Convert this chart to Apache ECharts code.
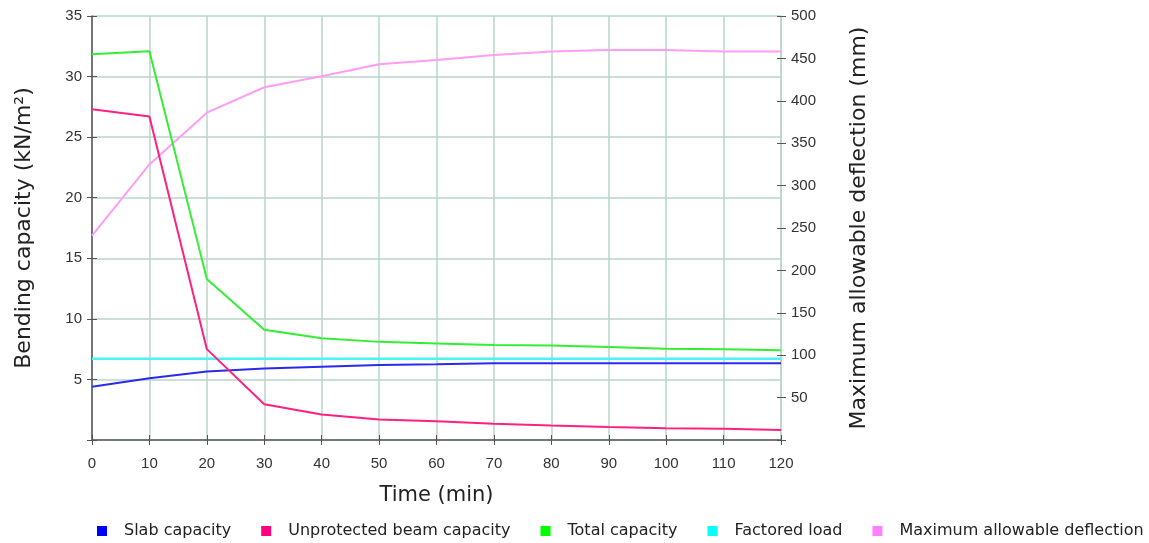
<!DOCTYPE html>
<html>
<head>
<meta charset="utf-8">
<script src="https://cdn.jsdelivr.net/npm/echarts@6/dist/echarts.min.js"></script>
<style>html,body{margin:0;padding:0;background:#fff}#c{width:1149px;height:543px}</style>
</head>
<body>
<div id="c"></div>
<script>
var times = [0, 10, 20, 30, 40, 50, 60, 70, 80, 90, 100, 110, 120];
var slabCapacity = [4.4, 5.1, 5.65, 5.9, 6.05, 6.2, 6.25, 6.33, 6.33, 6.33, 6.33, 6.33, 6.33];
var unprotectedBeam = [27.3, 26.7, 7.5, 2.95, 2.1, 1.7, 1.55, 1.35, 1.2, 1.07, 0.96, 0.93, 0.82];
var totalCapacity = [31.85, 32.1, 13.3, 9.1, 8.4, 8.1, 7.97, 7.84, 7.8, 7.67, 7.53, 7.5, 7.4];
var factoredLoad = [6.7, 6.7, 6.7, 6.7, 6.7, 6.7, 6.7, 6.7, 6.7, 6.7, 6.7, 6.7, 6.7];
var maxDeflection = [241, 325, 386, 416, 429, 443, 448, 454, 458, 460, 460, 458, 458];

function pairs(vals) { return times.map(function (t, i) { return [t, vals[i]]; }); }

var FONT = 'Liberation Sans';
var TFONT = 'DejaVu Sans';
var GRID = '#b9d6c8';
var AX = '#555555';
var G = {left: 92, right: 368, top: 16, bottom: 103, containLabel: false};

var chart = echarts.init(document.getElementById('c'), null, {renderer: 'canvas'});
function mk(name, vals, lineColor, iconColor, yIdx, w) {
  return {
    name: name, type: 'line', xAxisIndex: 0, yAxisIndex: yIdx || 0, data: pairs(vals),
    showSymbol: false, symbol: 'none', animation: false,
    lineStyle: {color: lineColor, width: w || 2},
    itemStyle: {color: iconColor}
  };
}
chart.setOption({
  animation: false,
  textStyle: {fontFamily: FONT},
  grid: [G, Object.assign({}, G)],
  legend: {
    left: 97, top: 523, width: 2000, padding: 0, itemWidth: 10, itemHeight: 10, itemGap: 30, icon: 'rect',
    textStyle: {fontFamily: TFONT, fontSize: 16, color: '#222', padding: [0, 0, 0, 12]},
    data: ['Slab capacity', 'Unprotected beam capacity', 'Total capacity', 'Factored load', 'Maximum allowable deflection']
  },
  xAxis: [{
    gridIndex: 0, type: 'value', min: 0, max: 120, interval: 10,
    name: 'Time (min)', nameLocation: 'middle', nameGap: 45,
    nameTextStyle: {fontFamily: TFONT, fontSize: 21, color: '#222'},
    axisLine: {show: true, onZero: false, lineStyle: {color: AX, width: 1.5}},
    axisTick: {show: true, length: 5, lineStyle: {color: AX}},
    axisLabel: {fontFamily: FONT, fontSize: 15, color: '#333', margin: 16},
    splitLine: {show: true, lineStyle: {color: GRID, width: 1.5}}
  }, {
    gridIndex: 1, type: 'value', min: 0, max: 120, interval: 10, position: 'bottom',
    axisLine: {show: false}, axisTick: {show: true, inside: true, length: 5, lineStyle: {color: AX}},
    axisLabel: {show: false}, splitLine: {show: false}
  }],
  yAxis: [{
    gridIndex: 0, type: 'value', min: 0, max: 35, interval: 5, position: 'left',
    name: 'Bending capacity (kN/m²)', nameLocation: 'middle', nameRotate: 90, nameGap: 57,
    nameTextStyle: {fontFamily: TFONT, fontSize: 22, color: '#222'},
    axisLine: {show: true, onZero: false, lineStyle: {color: AX, width: 1.5}},
    axisTick: {show: true, length: 5, lineStyle: {color: AX}},
    axisLabel: {fontFamily: FONT, fontSize: 15, color: '#333', margin: 10,
      formatter: function (v) { return v === 0 ? '' : v; }},
    splitLine: {show: true, lineStyle: {color: GRID, width: 1.5}}
  }, {
    gridIndex: 0, type: 'value', min: 0, max: 500, interval: 50, position: 'right',
    name: 'Maximum allowable deflection (mm)', nameLocation: 'middle', nameRotate: 90, nameGap: 67,
    nameTextStyle: {fontFamily: TFONT, fontSize: 22, color: '#222'},
    axisLine: {show: true, onZero: false, lineStyle: {color: GRID, width: 1.5}},
    axisTick: {show: true, length: 5, lineStyle: {color: AX}},
    axisLabel: {fontFamily: FONT, fontSize: 15, color: '#333', margin: 10,
      formatter: function (v) { return v === 0 ? '' : v; }},
    splitLine: {show: false}
  }, {
    gridIndex: 1, type: 'value', min: 0, max: 35, interval: 5, position: 'left',
    axisLine: {show: false}, axisTick: {show: true, inside: true, length: 5, lineStyle: {color: AX}},
    axisLabel: {show: false}, splitLine: {show: false}
  }, {
    gridIndex: 1, type: 'value', min: 0, max: 500, interval: 50, position: 'right',
    axisLine: {show: false}, axisTick: {show: true, inside: true, length: 4, lineStyle: {color: AX}},
    axisLabel: {show: false}, splitLine: {show: false}
  }],
  series: [
    mk('Factored load', factoredLoad, '#48f4f4', '#00ffff', 0, 2.5),
    mk('Maximum allowable deflection', maxDeflection, '#ff9cf5', '#ff80ff', 1, 2),
    mk('Slab capacity', slabCapacity, '#2a2aee', '#0000ff', 0, 2),
    mk('Unprotected beam capacity', unprotectedBeam, '#ff2080', '#ff0080', 0, 2),
    mk('Total capacity', totalCapacity, '#33ee33', '#00ff00', 0, 2)
  ]
});
</script>
</body>
</html>
